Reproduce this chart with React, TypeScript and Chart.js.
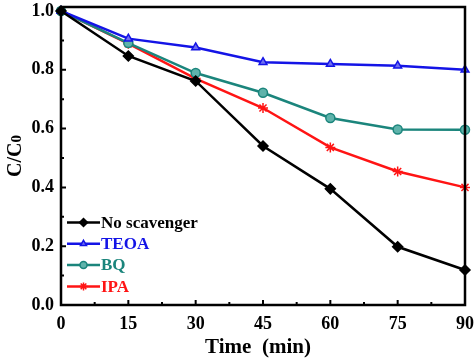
import React, { useEffect, useRef } from "react";
import { Chart, registerables } from "chart.js";
import { drawPoint } from "chart.js/helpers";

Chart.register(...registerables);

const times = [0, 15, 30, 45, 60, 75, 90];
const noScavenger = [1.0, 0.847, 0.762, 0.541, 0.395, 0.198, 0.119];
const teoa = [1.0, 0.906, 0.876, 0.826, 0.82, 0.814, 0.8];
const bq = [1.0, 0.891, 0.789, 0.722, 0.636, 0.597, 0.596];
const ipa = [1.0, 0.889, 0.77, 0.67, 0.536, 0.454, 0.4];
const seriesNames = ["No scavenger", "TEOA", "BQ", "IPA"];
const xTicks = [0, 15, 30, 45, 60, 75, 90];
const yTicks = [0, 0.2, 0.4, 0.6, 0.8, 1.0];

const SERIF = '"Liberation Serif", "Times New Roman", serif';

const overlay = {
  id: "overlay",
  afterDatasetsDraw(chart: any) {
    const { ctx, chartArea: a, scales } = chart;
    const xs = scales.x;
    const ys = scales.y;
    ctx.save();
    // frame
    ctx.strokeStyle = "#000";
    ctx.lineWidth = 2.5;
    ctx.strokeRect(a.left, a.top, a.right - a.left, a.bottom - a.top);
    // inward ticks
    ctx.lineWidth = 2;
    ctx.beginPath();
    for (let v = 0; v <= 90.01; v += 7.5) {
      const px = xs.getPixelForValue(v);
      const major = Math.abs(v / 15 - Math.round(v / 15)) < 1e-6;
      const len = major ? 5 : 3;
      ctx.moveTo(px, a.bottom);
      ctx.lineTo(px, a.bottom - len);
    }
    for (let i = 0; i <= 10; i++) {
      const v = i * 0.1;
      const py = ys.getPixelForValue(v);
      const len = i % 2 === 0 ? 5 : 3;
      ctx.moveTo(a.left, py);
      ctx.lineTo(a.left + len, py);
    }
    ctx.stroke();

    // legend
    const x0 = 67;
    const x1 = 100;
    const y0 = 222.5;
    const dy = 21.3;
    chart.data.datasets.forEach((ds: any, i: number) => {
      const y = y0 + i * dy;
      ctx.strokeStyle = ds.borderColor;
      ctx.lineWidth = 2.5;
      ctx.beginPath();
      ctx.moveTo(x0, y);
      ctx.lineTo(x1, y);
      ctx.stroke();
      ctx.fillStyle = ds.pointBackgroundColor;
      ctx.strokeStyle = ds.borderColor;
      ctx.lineWidth = 1.5;
      drawPoint(ctx, { pointStyle: ds.pointStyle, radius: ds.pointRadius - 1, rotation: 0, borderWidth: 1.5 }, (x0 + x1) / 2, y);
      ctx.fillStyle = ds.borderColor;
      ctx.font = `bold 17px ${SERIF}`;
      ctx.textBaseline = "middle";
      ctx.textAlign = "left";
      ctx.fillText(ds.label, x1 + 1, y + 1);
    });

    // x title
    ctx.fillStyle = "#000";
    ctx.font = `bold 21px ${SERIF}`;
    ctx.textAlign = "center";
    ctx.textBaseline = "alphabetic";
    ctx.fillText("Time  (min)", 258, 353);

    // y title
    ctx.translate(21, (a.top + a.bottom) / 2);
    ctx.rotate(-Math.PI / 2);
    ctx.font = `bold 20px ${SERIF}`;
    const main = "C/C";
    const w1 = ctx.measureText(main).width;
    ctx.font = `bold 15px ${SERIF}`;
    const w2 = ctx.measureText("0").width;
    const total = w1 + w2;
    ctx.textAlign = "left";
    ctx.font = `bold 20px ${SERIF}`;
    ctx.fillText(main, -total / 2, 0);
    ctx.font = `bold 15px ${SERIF}`;
    ctx.fillText("0", -total / 2 + w1, 0);
    ctx.restore();
  },
};

export default function App() {
  const ref = useRef<HTMLCanvasElement | null>(null);
  useEffect(() => {
    document.body.style.margin = "0";
    const mk = (label: string, data: number[], color: string, fill: string, style: string, r: number) => ({
      label,
      data: data.map((y, i) => ({ x: times[i], y })),
      borderColor: color,
      backgroundColor: color,
      pointBackgroundColor: fill,
      pointBorderColor: color,
      pointStyle: style,
      pointRadius: r,
      pointBorderWidth: 1.5,
      borderWidth: 2.5,
      tension: 0,
      clip: false,
    });
    const chart = new Chart(ref.current!, {
      type: "line",
      data: {
        datasets: [
          mk(seriesNames[0], noScavenger, "#000000", "#000000", "rectRot", 5),
          mk(seriesNames[1], teoa, "#1414e6", "#6f6ff0", "triangle", 4.5),
          mk(seriesNames[2], bq, "#1b857c", "#5fb3ab", "circle", 4.5),
          mk(seriesNames[3], ipa, "#ff1414", "#ff1414", "star", 5),
        ] as any,
      },
      options: {
        animation: false,
        responsive: false,
        maintainAspectRatio: false,
        layout: { padding: { top: 7, right: 9, left: 0, bottom: 0 } },
        plugins: { legend: { display: false }, tooltip: { enabled: false } },
        scales: {
          x: {
            type: "linear",
            min: 0,
            max: 90,
            grid: { display: false, drawTicks: false },
            border: { display: false },
            afterBuildTicks: (s: any) => {
              s.ticks = xTicks.map((v) => ({ value: v }));
            },
            afterFit: (s: any) => {
              s.height = 54;
              s.paddingLeft = 0;
              s.paddingRight = 0;
            },
            ticks: {
              color: "#000",
              padding: 9,
              maxRotation: 0,
              font: { family: SERIF, size: 18, weight: "bold" },
            },
          },
          y: {
            min: 0,
            max: 1.0136,
            grid: { display: false, drawTicks: false },
            border: { display: false },
            afterBuildTicks: (s: any) => {
              s.ticks = yTicks.map((v) => ({ value: v }));
            },
            afterFit: (s: any) => {
              s.width = 61;
              s.paddingTop = 0;
              s.paddingBottom = 0;
            },
            ticks: {
              color: "#000",
              padding: 7,
              font: { family: SERIF, size: 18, weight: "bold" },
              callback: (v: any) => Number(v).toFixed(1),
            },
          },
        },
      },
      plugins: [overlay],
    });
    return () => chart.destroy();
  }, []);
  return (
    <div style={{ width: 474, height: 359 }}>
      <canvas ref={ref} width={474} height={359} style={{ display: "block" }} />
    </div>
  );
}
